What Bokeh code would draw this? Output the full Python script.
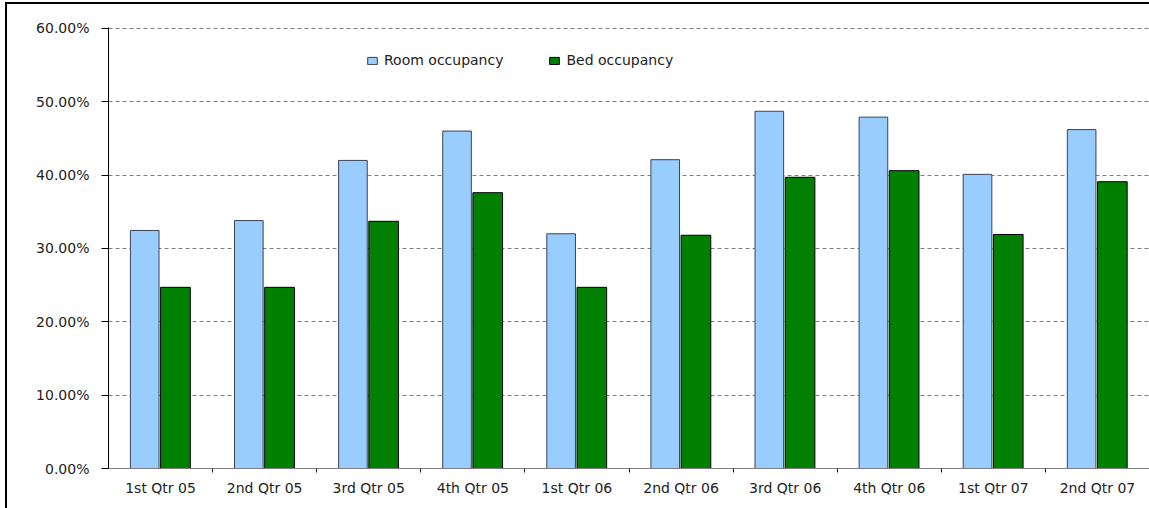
from bokeh.plotting import figure
from bokeh.models import (ColumnDataSource, FixedTicker, NumeralTickFormatter, Legend,
                          LegendItem, Range1d)
from bokeh.embed import file_html
from bokeh.resources import INLINE
import numpy as np

categories = ["1st Qtr 05", "2nd Qtr 05", "3rd Qtr 05", "4th Qtr 05", "1st Qtr 06",
              "2nd Qtr 06", "3rd Qtr 06", "4th Qtr 06", "1st Qtr 07", "2nd Qtr 07"]
room_occupancy = [0.3245, 0.338, 0.420, 0.460, 0.320, 0.421, 0.487, 0.479, 0.401, 0.462]
bed_occupancy = [0.247, 0.247, 0.337, 0.376, 0.247, 0.318, 0.397, 0.406, 0.319, 0.391]
y_ticks = [0.0, 0.1, 0.2, 0.3, 0.4, 0.5, 0.6]

FONT = "DejaVu Sans"
FS = "14px"
n = len(categories)
idx = np.arange(n)
centers = idx + 0.5

src = ColumnDataSource(dict(
    room_x=centers - 0.152,
    bed_x=centers + 0.143,
    room=room_occupancy,
    bed=bed_occupancy,
))

# the figure is shifted by a CSS border (left/top edges of the original chart frame)
p = figure(width=1142, height=504, output_backend="svg", toolbar_location=None,
           x_range=Range1d(0, n), y_range=Range1d(0, 0.6012),
           min_border_left=101, min_border_right=2, min_border_top=23, min_border_bottom=42)
p.styles = {"border-left": "2px solid black", "border-top": "2px solid black",
            "margin-left": "5px", "margin-top": "2px", "box-sizing": "content-box"}
p.outline_line_color = None
p.background_fill_color = "white"
p.border_fill_color = "white"

r_room = p.vbar(x="room_x", top="room", width=0.275, bottom=0, source=src,
                fill_color="#99CCFF", line_color="#3a4450", line_width=1)
r_bed = p.vbar(x="bed_x", top="bed", width=0.285, bottom=0, source=src,
               fill_color="#008000", line_color="black", line_width=1)

# y axis
p.yaxis.ticker = FixedTicker(ticks=y_ticks)
p.yaxis.formatter = NumeralTickFormatter(format="0.00%")
p.yaxis.axis_line_color = "black"
p.yaxis.major_tick_line_color = "black"
p.yaxis.major_tick_out = 7
p.yaxis.major_tick_in = 0
p.yaxis.minor_tick_line_color = None
p.yaxis.major_label_standoff = 12
p.yaxis.major_label_text_font = FONT
p.yaxis.major_label_text_font_size = FS
p.yaxis.major_label_text_color = "#222222"

# x axis
p.xaxis.ticker = FixedTicker(ticks=list(centers), minor_ticks=list(range(1, n)))
p.xaxis.major_label_overrides = {float(c): lab for c, lab in zip(centers, categories)}
p.xaxis.axis_line_color = "#808080"
p.xaxis.major_tick_line_color = None
p.xaxis.major_tick_out = 0
p.xaxis.major_tick_in = 0
p.xaxis.minor_tick_line_color = "#222222"
p.xaxis.minor_tick_out = 4
p.xaxis.minor_tick_in = 0
p.xaxis.major_label_standoff = 7
p.xaxis.major_label_text_font = FONT
p.xaxis.major_label_text_font_size = FS
p.xaxis.major_label_text_color = "#222222"

# grid
p.xgrid.grid_line_color = None
p.ygrid.ticker = FixedTicker(ticks=y_ticks)
p.ygrid.grid_line_color = "#808080"
p.ygrid.grid_line_dash = "4 3"
p.ygrid.grid_line_width = 1

legend = Legend(items=[LegendItem(label="Room occupancy", renderers=[r_room]),
                       LegendItem(label="Bed occupancy", renderers=[r_bed])],
                orientation="horizontal", location=(258, 400),
                border_line_color=None, background_fill_alpha=0,
                padding=0, margin=0, spacing=45, label_standoff=6,
                glyph_width=12, glyph_height=9,
                label_text_font=FONT, label_text_font_size=FS,
                label_text_color="#222222", label_height=14)
p.add_layout(legend, "center")

open("out.html", "w").write(file_html(p, INLINE))
